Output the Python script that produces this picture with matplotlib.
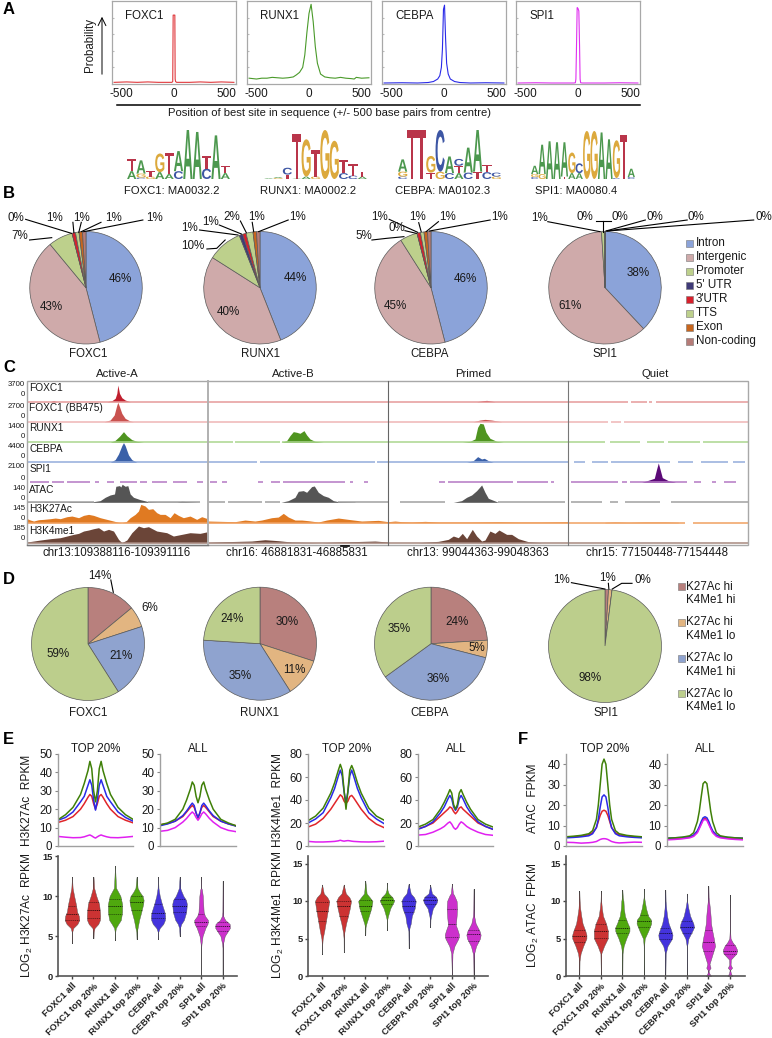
import numpy as np
import matplotlib
matplotlib.use("Agg")
import matplotlib.pyplot as plt
from matplotlib.textpath import TextPath
from matplotlib.patches import PathPatch, Rectangle
from matplotlib.font_manager import FontProperties
from matplotlib.transforms import Affine2D

plt.rcParams['font.family'] = ['Liberation Sans', 'DejaVu Sans']
plt.rcParams['mathtext.default'] = 'regular'
plt.rcParams['axes.unicode_minus'] = False

W, H = 772, 1038
fig = plt.figure(figsize=(W / 100, H / 100), dpi=100, facecolor='white')

def A(x0, y0, x1, y1):
    return fig.add_axes([x0 / W, 1 - y1 / H, (x1 - x0) / W, (y1 - y0) / H], facecolor='none')

ov = fig.add_axes([0, 0, 1, 1], facecolor='none', zorder=50)
ov.set_xlim(0, W); ov.set_ylim(H, 0); ov.axis('off')

def T(x, y, s, fs=8.5, ha='center', va='center', **k):
    ov.text(x, y, s, fontsize=fs, ha=ha, va=va, color=k.pop('color', '#1a1a1a'), **k)

def Zx(x): return x / 2.03

TF = ['FOXC1', 'RUNX1', 'CEBPA', 'SPI1']
TF_COL = ['#e0383c', '#4a9a2a', '#2a2ae8', '#e030f0']
for s, y in zip('ABCD', [9, 193, 367, 580]):
    T(3, y, s, 12, ha='left', weight='bold', color='black')
T(3, 740, 'E', 12, ha='left', weight='bold', color='black')
T(518, 740, 'F', 12, ha='left', weight='bold', color='black')

# ---------------- Panel A: motif position profiles
A_X = [
    [-570, -450, -350, -250, -150, -60, -20, -12, -8, 0, 8, 11, 15, 25, 60, 150, 250, 350, 450, 570],
    [-570, -500, -450, -400, -350, -300, -250, -200, -150, -120, -90, -60, -40, -20, 0, 20, 40, 60, 80, 110, 150, 200, 250, 300, 350, 400, 430, 450, 500, 570],
    [-570, -400, -250, -150, -100, -60, -40, -25, -15, -5, 5, 15, 25, 40, 60, 100, 150, 250, 400, 570],
    [-570, -400, -250, -100, -40, -25, -20, -15, -8, 0, 8, 15, 20, 25, 40, 100, 250, 400, 570],
]
A_Y = [
    [.02, .025, .02, .025, .02, .02, .02, .03, .83, .83, .83, .06, .03, .02, .02, .02, .025, .02, .025, .02],
    [.07, .06, .07, .07, .08, .075, .07, .075, .085, .11, .14, .2, .35, .62, .85, .96, .75, .45, .25, .12, .085, .075, .07, .08, .07, .065, .06, .08, .07, .075],
    [.012, .015, .012, .018, .03, .06, .1, .2, .42, .9, .95, .55, .25, .12, .06, .03, .018, .012, .015, .012],
    [.012, .015, .012, .012, .012, .015, .06, .4, .92, .91, .88, .45, .06, .015, .012, .012, .012, .015, .012],
]
A_BOX = [(112, 236), (247, 371), (382, 506), (516, 640)]
A_TICKS = [-500, 0, 500]
for i, (x0, x1) in enumerate(A_BOX):
    ax = A(x0, 1, x1, 84)
    ax.plot(A_X[i], A_Y[i], color=TF_COL[i], lw=0.8)
    ax.set_xlim(-590, 590); ax.set_ylim(0, 1)
    ax.set_xticks(A_TICKS); ax.set_xticklabels([str(t) for t in A_TICKS], fontsize=8.5, color='#1a1a1a')
    ax.set_yticks([.2, .4, .6, .8])
    ax.set_yticklabels([])
    ax.tick_params(axis='x', length=0, pad=3)
    ax.tick_params(axis='y', length=1.5, direction='in', color='#bbbbbb')
    for sp in ax.spines.values():
        sp.set_color('#a8a8a8'); sp.set_linewidth(0.9)
    T(x0 + 13, 16, TF[i], 8.3, ha='left')
ov.plot([117, 640], [105, 105], color='black', lw=1.1)
T(329, 113, 'Position of best site in sequence (+/- 500 base pairs from centre)', 8.1)
T(90, 45, 'Probability', 8.3, rotation=90)
ov.annotate('', xy=(102, 14), xytext=(102, 77),
            arrowprops=dict(arrowstyle='->', lw=0.7, color='black', mutation_scale=14))

# logos: stacks, bottom up, letter and height (fraction of full scale)
LOGO_COL = {'A': '#3d8f3f', 'C': '#2c479c', 'G': '#d9a22c', 'T': '#b3243a'}
LOGO_FOXC1 = [[('A', .16), ('T', .24)], [('C', .03), ('G', .08), ('A', .27)], [('G', .05), ('T', .11)],
              [('A', .14), ('G', .38)], [('A', .1), ('T', .43)], [('C', .16), ('A', .41)], [('A', 1.0)],
              [('A', .96)], [('C', .21), ('T', .26)], [('A', .89)], [('A', .12), ('T', .14)]]
LOGO_RUNX1 = [[('A', .015)], [('G', .02), ('A', .02)], [('T', .09), ('C', .14)], [('A', .01), ('T', .9)],
              [('A', .05), ('G', .76)], [('G', .05), ('T', .55)], [('G', 1.0)], [('G', .78)],
              [('C', .12), ('T', .26)], [('C', .07), ('T', .24)], [('A', .05), ('T', .1)]]
LOGO_CEBPA = [[('C', .05), ('G', .1), ('A', .25)], [('T', 1.0)], [('T', 1.0)], [('T', .13), ('G', .34)],
              [('G', .15), ('C', .85)], [('C', .12), ('A', .34)], [('A', .12), ('T', .15), ('C', .14)],
              [('C', .13), ('A', .51)], [('T', .15), ('A', .85)], [('C', .14), ('T', .15)], [('G', .05), ('C', .08)]]
LOGO_SPI1 = [[('C', .04), ('G', .06), ('A', .17)], [('G', .1), ('A', .6)], [('A', .77)], [('A', .75)],
             [('T', .05), ('A', .7)], [('A', .12), ('G', .42)], [('A', .12), ('C', .2)], [('G', .98)],
             [('G', .98)], [('A', .95)], [('A', .81)], [('C', .02), ('G', .77)], [('T', .9)], [('C', .04), ('A', .17)]]
LOGOS = [LOGO_FOXC1, LOGO_RUNX1, LOGO_CEBPA, LOGO_SPI1]
LOGO_NAMES = ['FOXC1: MA0032.2', 'RUNX1: MA0002.2', 'CEBPA: MA0102.3', 'SPI1: MA0080.4']
LOGO_X = [(127, 230), (264, 367), (398, 501), (531, 635)]
LOGO_LAB = [172, 308, 443, 576]
fp = FontProperties(family='Liberation Sans', weight='bold')
for cols, (x0, x1), nm, lx in zip(LOGOS, LOGO_X, LOGO_NAMES, LOGO_LAB):
    ax = A(x0, 130, x1, 179)
    ax.set_xlim(0, len(cols)); ax.set_ylim(0, 1); ax.axis('off')
    for c, stack in enumerate(cols):
        y = 0
        for ch, h in stack:
            tp = TextPath((0, 0), ch, size=1, prop=fp)
            bb = tp.get_extents()
            tr = Affine2D().translate(-bb.x0, -bb.y0).scale(0.98 / bb.width, h / bb.height).translate(c + .01, y)
            ax.add_patch(PathPatch(tp, transform=tr + ax.transData, fc=LOGO_COL[ch], ec='none', alpha=.92))
            y += h
    T(lx, 191, nm, 8.1)

# ---------------- Panel B: genomic annotation pies
B_CATS = ['Intron', 'Intergenic', 'Promoter', "5' UTR", "3'UTR", 'TTS', 'Exon', 'Non-coding']
B_COLS = ['#8ba3d9', '#cfaaaa', '#bdd08c', '#3f3a78', '#d8202c', '#bdd08c', '#c8661e', '#b67c78']
B_VALS = [[46, 43, 7, 0, 1, 1, 1, 1], [44, 40, 10, 1, 1, 2, 1, 1], [46, 45, 5, 0, 1, 1, 1, 1], [38, 61, 1, 0, 0, 0, 0, 0]]
B_CX = [86, 260, 431, 605]
for cx, vals, nm, nx in zip(B_CX, B_VALS, TF, [88, 260, 430, 605]):
    ax = A(cx - 56.5, 231.5, cx + 56.5, 344)
    ax.pie(vals, colors=B_COLS, startangle=90, counterclock=False, radius=1,
           wedgeprops=dict(edgecolor='#5a5a5a', linewidth=0.5))
    ax.set_xlim(-1, 1); ax.set_ylim(-1, 1)
    T(nx, 354, nm, 8.3)

# pie text: (value, zoom x, zoom y), leader polyline in zoom coordinates (2.03x, 3x from y=185)
B_TXT = [
    [('46%', 245, 283), ('43%', 105, 366), ('7%', 40, 152), ('0%', 33, 100), ('1%', 110, 98), ('1%', 165, 98), ('1%', 230, 98), ('1%', 313, 98)],
    [('44%', 599, 280), ('40%', 463, 380), ('10%', 392, 182), ('1%', 385, 130), ('1%', 428, 110), ('2%', 470, 96), ('1%', 520, 96), ('1%', 605, 96)],
    [('46%', 945, 282), ('45%', 803, 362), ('5%', 738, 152), ('0%', 805, 130), ('1%', 770, 96), ('1%', 848, 96), ('1%', 908, 96), ('1%', 1015, 96)],
    [('38%', 1295, 265), ('61%', 1158, 362), ('1%', 1095, 100), ('0%', 1188, 97), ('0%', 1258, 97), ('0%', 1330, 97), ('0%', 1412, 97), ('0%', 1550, 97)],
]
B_LEAD = [
    [(60, 165), (105, 158)], [(52, 103), (145, 145)], [(148, 112), (150, 143)], [(165, 112), (160, 142)], [(205, 112), (165, 140)], [(290, 105), (170, 140)],
    [(420, 192), (440, 190), (457, 165)], [(405, 135), (483, 150)], [(445, 120), (490, 147)], [(488, 108), (500, 143)], [(512, 112), (515, 140)], [(585, 105), (525, 140)],
    [(755, 165), (785, 160), (820, 155)], [(822, 137), (845, 145)], [(790, 103), (848, 142)], [(850, 113), (855, 140)], [(890, 110), (865, 140)], [(995, 105), (872, 138)],
    [(1112, 110), (1218, 140)], [(1210, 108), (1240, 108)], [(1225, 108), (1225, 140)], [(1310, 105), (1230, 138)], [(1395, 105), (1232, 138)], [(1530, 105), (1233, 138)],
]
for row in B_TXT:
    for s, x, y in row:
        T(Zx(x), 185 + y / 3, s, 8.4)
for pl in B_LEAD:
    ov.plot([Zx(p[0]) for p in pl], [185 + p[1] / 3 for p in pl], color='black', lw=0.8)
for i, (c, col) in enumerate(zip(B_CATS, B_COLS)):
    y = 185 + (175 + 42 * i) / 3
    ov.add_patch(Rectangle((686, y - 3.5), 7, 7, fc=col, ec='#777777', lw=0.4))
    T(696, y, c, 8.4, ha='left')

# ---------------- Panel C: tracks
C_COLS = [(80, 624, 27, 208), (10, 550, 208.3, 388.3), (10, 550, 388.3, 568.3), (10, 550, 568.3, 748.3)]
C_BASE = [401.7, 421.7, 442.3, 462.3, 482.3, 502.3, 522.7, 542.7]
C_NAMES = ['FOXC1', 'FOXC1 (BB475)', 'RUNX1', 'CEBPA', 'SPI1', 'ATAC', 'H3K27Ac', 'H3K4me1']
C_NAME_Y = [388, 408, 428, 449, 469, 490, 509, 531]
C_FILL = ['#c01f2e', '#c9524f', '#4f9420', '#3a60a8', '#5c0a78', '#555555', '#e07a22', '#6b4538']
C_LINE = ['#e59a9a', '#efb5b5', '#abd68e', '#93acdb', '#b478c4', '#a0a0a0', '#f0a060', '#a88a80']
C_SCALE = [('3700', 385, 395), ('2700', 407, 416), ('1400', 426, 436), ('4400', 446, 457),
           ('2100', 467, 478), ('140', 488, 498), ('145', 508, 518), ('185', 529, 539)]
C_TITLES = ['Active-A', 'Active-B', 'Primed', 'Quiet']
C_TITLE_X = [117, 293, 473, 655]
C_COORD = ['chr13:109388116-109391116', 'chr16: 46881831-46885831', 'chr13: 99044363-99048363', 'chr15: 77150448-77154448']
C_COORD_X = [117, 297, 478, 657]

# signal peaks: {(track, column): (positions, heights)}
C_PEAKS = {
    (0, 0): ([150, 160, 170, 320, 335, 345, 350, 353, 358, 365, 375, 390], [0, 3, 0, 0, 3, 10, 25, 50, 25, 12, 5, 0]),
    (1, 0): ([312, 330, 342, 350, 353, 358, 365, 375, 390, 400], [0, 5, 20, 50, 58, 45, 25, 10, 2, 0]),
    (2, 0): ([330, 345, 358, 370, 380, 395, 410, 430], [0, 6, 18, 32, 20, 8, 3, 0]),
    (3, 0): ([330, 345, 355, 365, 370, 375, 385, 395, 410], [0, 8, 25, 50, 59, 50, 22, 8, 0]),
    (5, 0): ([80, 130, 135, 200, 210, 280, 300, 315, 330, 343, 347, 358, 362, 366, 375, 383, 390, 400, 420, 445, 470, 530, 545, 600],
             [1, 1, 2, 1, 2, 2, 5, 15, 22, 25, 48, 50, 46, 54, 48, 50, 25, 15, 8, 2, 1, 1, 3, 0]),
    (6, 0): ([80, 90, 100, 115, 130, 150, 165, 180, 200, 215, 235, 250, 265, 280, 300, 320, 340, 355, 365, 378, 390, 405, 415, 422, 435, 445, 458, 470, 480, 495, 510, 522, 535, 550, 570, 590, 605, 623],
             [12, 8, 5, 9, 10, 12, 14, 12, 18, 20, 15, 22, 25, 22, 15, 10, 5, 1, 0, 3, 15, 25, 35, 55, 50, 40, 42, 30, 25, 25, 15, 30, 22, 15, 20, 10, 18, 12]),
    (7, 0): ([80, 120, 150, 180, 200, 220, 235, 250, 265, 280, 295, 310, 325, 340, 355, 365, 380, 395, 415, 430, 445, 470, 500, 520, 545, 570, 600, 623],
             [2, 8, 12, 15, 20, 25, 28, 35, 38, 42, 45, 35, 40, 35, 10, 0, 8, 30, 50, 45, 48, 35, 30, 20, 25, 30, 28, 33]),
    (2, 1): ([228, 245, 255, 265, 275, 285, 297, 305, 315, 330, 355], [0, 5, 20, 32, 30, 27, 35, 22, 10, 3, 0]),
    (5, 1): ([228, 250, 270, 280, 295, 305, 320, 328, 340, 355, 370, 385, 400, 450], [0, 5, 15, 33, 35, 30, 47, 49, 30, 20, 15, 5, 2, 1]),
    (6, 1): ([10, 50, 90, 120, 150, 170, 200, 220, 235, 250, 270, 290, 310, 340, 365, 400, 430, 470, 520, 550],
             [5, 4, 3, 8, 5, 8, 15, 17, 28, 17, 8, 8, 6, 2, 8, 14, 10, 5, 7, 3]),
    (7, 1): ([10, 60, 100, 140, 180, 220, 260, 300, 350, 400, 440, 510, 550], [1, 3, 4, 5, 9, 6, 2, 1, 0, 2, 3, 5, 2]),
    (0, 2): ([275, 295, 305, 330], [0, 3, 4, 0]),
    (1, 2): ([265, 285, 300, 320, 350], [0, 5, 7, 5, 0]),
    (2, 2): ([232, 255, 270, 278, 285, 295, 303, 315, 335, 355], [0, 3, 10, 45, 57, 55, 30, 12, 3, 0]),
    (3, 2): ([245, 265, 278, 290, 298, 310, 325], [0, 5, 17, 10, 12, 5, 0]),
    (5, 2): ([205, 230, 245, 260, 275, 290, 300, 310, 330, 340], [0, 5, 15, 22, 35, 52, 30, 12, 4, 0]),
    (6, 2): ([10, 30, 50, 80, 120, 160, 200, 260, 340, 400, 470, 550], [3, 5, 3, 2, 4, 2, 2, 2, 3, 2, 2, 3]),
    (7, 2): ([100, 160, 190, 205, 220, 232, 245, 262, 275, 290, 300, 315, 330, 342, 365, 380, 400, 430, 470],
             [0, 4, 10, 20, 15, 28, 12, 40, 20, 5, 8, 35, 28, 38, 25, 25, 12, 3, 0]),
    (4, 3): ([230, 250, 268, 275, 280, 285, 292, 310, 330], [0, 6, 12, 40, 58, 40, 14, 5, 1]),
    (6, 3): ([120, 150, 190, 240, 300, 340], [1, 2, 1, 2, 2, 1]),
}
# baseline segments: {(track, column): [(start, end), ...]}; tracks not listed are continuous
C_SEGS = {
    (0, 3): [(10, 190), (198, 245), (252, 262), (272, 550)],
    (1, 3): [(10, 130), (138, 168), (178, 550)],
    (2, 1): [(10, 85), (90, 225), (232, 550)],
    (2, 3): [(10, 120), (135, 225), (245, 298), (308, 405), (415, 550)],
    (3, 1): [(10, 155), (165, 510), (515, 550)],
    (3, 3): [(28, 60), (80, 130), (138, 315), (340, 385), (408, 490), (505, 540)],
    (4, 0): [(90, 145), (155, 190), (200, 270), (285, 295), (320, 340), (360, 410), (420, 440), (455, 500), (520, 560), (590, 610)],
    (4, 1): [(15, 35), (50, 65), (160, 175), (198, 225), (235, 420), (435, 445), (478, 490)],
    (4, 2): [(163, 180), (190, 385), (395, 490), (498, 508)],
    (4, 3): [(18, 160), (172, 185), (195, 365), (388, 408), (440, 452), (478, 513)],
    (5, 0): [(80, 280), (445, 600)],
    (5, 1): [(10, 60), (70, 170), (180, 225), (400, 550)],
    (5, 2): [(45, 180), (340, 540)],
    (5, 3): [(18, 110), (135, 160), (180, 285), (318, 550)],
    (6, 3): [(10, 360), (385, 550)],
}
for c, (zx0, zx1, px0, px1) in enumerate(C_COLS):
    for t, base in enumerate(C_BASE):
        ax = A(px0, base - 20, px1, base)
        ax.set_xlim(zx0, zx1); ax.set_ylim(0, 60); ax.axis('off')
        for a, b in C_SEGS.get((t, c), [(zx0, zx1)]):
            ax.plot([a, b], [0.5, 0.5], color=C_LINE[t], lw=1.1, solid_capstyle='butt', clip_on=False)
        if (t, c) in C_PEAKS:
            xs, hs = C_PEAKS[(t, c)]
            ax.fill_between(xs, hs, 0, color=C_FILL[t], lw=0)
    T(C_TITLE_X[c], 374, C_TITLES[c], 8.2)
    T(C_COORD_X[c], 553, C_COORD[c], 8.3)
for nm, y in zip(C_NAMES, C_NAME_Y):
    T(29.3, y, nm, 7.3, ha='left')
for s, y1, y0 in C_SCALE:
    T(25, y1, s, 5.6, ha='right')
    T(25, y0, '0', 5.6, ha='right')
for x, col, lw in [(208, '#b0b0b0', 1.4), (388, '#666666', 0.8), (568, '#777777', 0.8)]:
    ov.plot([x, x], [381, 545], color=col, lw=lw)
ov.add_patch(Rectangle((27, 381), 721, 164, fc='none', ec='#a8a8a8', lw=1.0))
ov.plot([27, 208], [545, 545], color='#777777', lw=1.0)
ov.plot([341, 349], [545.5, 545.5], color='black', lw=1.2)

# ---------------- Panel D: chromatin class pies
D_CATS = [('K27Ac hi', 'K4Me1 hi'), ('K27Ac hi', 'K4Me1 lo'), ('K27Ac lo', 'K4Me1 hi'), ('K27Ac lo', 'K4Me1 lo')]
D_COLS = ['#b8807d', '#e2b581', '#8fa3cf', '#bcce8c']
D_VALS = [[14, 6, 21, 59], [30, 11, 35, 24], [24, 5, 36, 35], [1, 1, 0, 98]]
D_C = [(88, 644), (260, 643.7), (431, 643.7), (605, 646)]
for (cx, cy), vals, nm, nx in zip(D_C, D_VALS, TF, [180, 527, 873, 1230]):
    ax = A(cx - 56.5, cy - 56.5, cx + 56.5, cy + 56.5)
    ax.pie(vals, colors=D_COLS, startangle=90, counterclock=False, radius=1,
           wedgeprops=dict(edgecolor='#5a5a5a', linewidth=0.5))
    ax.set_xlim(-1, 1); ax.set_ylim(-1, 1)
    T(Zx(nx), 565 + 445 / 3, nm, 8.3)
D_TXT = [('14%', 202, 32), ('6%', 305, 128), ('21%', 245, 272), ('59%', 117, 268),
         ('30%', 583, 170), ('11%', 598, 315), ('35%', 488, 333), ('24%', 470, 163),
         ('24%', 928, 170), ('5%', 968, 250), ('36%', 890, 343), ('35%', 810, 193),
         ('1%', 1140, 45), ('1%', 1233, 40), ('0%', 1305, 45), ('98%', 1198, 338)]
for s, x, y in D_TXT:
    T(Zx(x), 565 + y / 3, s, 8.4)
D_LEAD = [[(225, 45), (230, 82)], [(1160, 53), (1228, 72)], [(1235, 55), (1236, 72)], [(1283, 55), (1262, 55), (1243, 72)]]
for pl in D_LEAD:
    ov.plot([Zx(p[0]) for p in pl], [565 + p[1] / 3 for p in pl], color='black', lw=0.8)
for i, ((a, b), col) in enumerate(zip(D_CATS, D_COLS)):
    y = 565 + (65 + 107.3 * i) / 3
    ov.add_patch(Rectangle((678, y - 3.5), 7, 7, fc=col, ec='#777777', lw=0.4))
    T(686, y, a, 8.4, ha='left')
    T(686, y + 13.5, b, 8.4, ha='left')

# ---------------- Panels E, F: profiles
P_X = [-1, -.8, -.6, -.4, -.3, -.2, -.15, -.1, -.05, 0, .05, .1, .15, .2, .3, .4, .6, .8, 1]
E1T = [[12.8, 14, 16, 20, 23, 26.5, 28, 27, 23, 20, 23, 27, 28, 26.5, 23, 20, 16, 14, 12.6],
       [14, 15.5, 18.5, 24, 27, 33, 36, 33, 25, 19.5, 25, 33, 36, 33, 27, 24, 18.5, 15.5, 13.5],
       [14.3, 17, 21, 28, 34, 41, 46, 42, 30, 24, 30, 42, 46, 41, 34, 28, 21, 17, 14.5],
       [5.2, 4.8, 4.5, 4.6, 5, 5.7, 6, 5.5, 4.8, 4.3, 5, 5.6, 6, 5.6, 5, 4.6, 4.5, 4.8, 5.2]]
E1A = [[11.5, 12.2, 13.5, 16, 18.5, 21, 22, 21, 18, 15, 18, 21, 22, 21, 18.5, 16, 13.5, 12, 11],
       [11, 12, 13.5, 16.5, 19, 22, 23.3, 22, 18, 15.5, 18, 22, 23.3, 22, 19, 16.5, 13.5, 12, 10.8],
       [11.5, 12.5, 14.5, 20, 25, 31, 34.8, 33, 27, 23.5, 27, 33, 34.8, 31, 25, 20, 14.5, 12.5, 11],
       [8, 8.5, 10, 13, 15, 17.5, 18.5, 17.5, 15.5, 14, 15.5, 17.5, 18.5, 17.5, 15, 13, 10, 8.5, 7.8]]
E2T = [[16.5, 19, 24, 32, 37, 42, 44.5, 43, 39, 37, 39, 43, 44, 42, 37, 32, 24, 19, 16],
       [20, 23.5, 29, 42, 50, 61, 66, 61, 47, 38, 47, 61, 66, 61, 50, 42, 29, 23.5, 19.5],
       [22, 26, 33, 46, 55, 66, 71, 66, 48, 32, 48, 66, 70, 66, 55, 46, 33, 26, 22.5],
       [4, 3.5, 3.5, 3.8, 4, 4.5, 5, 4.5, 4.2, 4.5, 4.7, 4.5, 4.2, 4, 3.8, 3.6, 3.5, 3.7, 4.2]]
E2A = [[15, 17, 20, 26, 29, 32, 34, 33, 30, 28, 30, 33, 34, 32, 29, 26, 20, 17, 14.5],
       [14.5, 17, 21, 29, 34, 41, 44, 41, 34, 31, 34, 41, 44, 41, 34, 29, 21, 17, 14.5],
       [16.5, 19, 23, 32, 38, 45, 49, 46, 36, 32, 36, 46, 49, 45, 38, 32, 23, 19, 16.5],
       [9.5, 10, 12, 15, 17, 20, 21, 19, 16, 14.5, 16, 19, 21, 20, 17, 15, 12, 10, 9.3]]
F1T = [[4.3, 4.5, 4.8, 5.5, 6.5, 9, 12, 15, 17, 17.5, 17, 15, 12, 9, 6.5, 5.5, 4.8, 4.5, 4.3],
       [4, 4.2, 4.5, 5, 6, 9, 13, 19, 24, 25, 24, 19, 13, 9, 6, 5, 4.5, 4.2, 4],
       [4.5, 4.8, 5.2, 6, 7.5, 13, 20, 30, 40, 42.5, 40, 30, 20, 13, 7.5, 6, 5.2, 4.8, 4.5],
       [1.8, 1.7, 1.4, 1.6, 1.8, 2.2, 2.7, 3.2, 3.5, 3.6, 3.5, 3.2, 2.7, 2.2, 1.7, 1.5, 1.7, 1.9, 1.8]]
F1A = [[3.3, 3.5, 3.8, 4.3, 5, 7, 9, 11, 13, 13.5, 13, 11, 9, 7, 5, 4.3, 3.8, 3.5, 3.3],
       [3.8, 4, 4.2, 4.6, 5.3, 7.5, 9.5, 12, 13.8, 14.3, 13.8, 12, 9.5, 7.5, 5.3, 4.6, 4.2, 4, 3.8],
       [3.8, 4, 4.3, 5, 6.5, 12, 17, 24, 30.5, 31.5, 30.5, 24, 17, 12, 6.5, 5, 4.3, 4, 3.8],
       [3, 3.2, 3.5, 4, 4.7, 6.5, 8.5, 10.5, 12.5, 13, 12.5, 10.5, 8.5, 6.5, 4.7, 4, 3.5, 3.2, 3]]
P_PANELS = [(58, 133, 50, range(0, 51, 10), E1T, 'TOP 20%'), (160, 236, 50, range(0, 51, 10), E1A, 'ALL'),
            (308, 384, 80, range(0, 81, 20), E2T, 'TOP 20%'), (418, 493, 80, range(0, 81, 20), E2A, 'ALL'),
            (566, 642, 45, range(0, 41, 10), F1T, 'TOP 20%'), (667, 743, 45, range(0, 41, 10), F1A, 'ALL')]
P_COL = ['#e0252a', '#2a2ae8', '#3f8008', '#e020f0']
for (x0, x1, ymax, ticks, series, ttl) in P_PANELS:
    ax = A(x0, 754, x1, 846)
    for s, col in zip(series, P_COL):
        ax.plot(P_X, s, color=col, lw=1.1)
    ax.set_xlim(-1, 1); ax.set_ylim(0, ymax)
    ax.set_xticks([]); ax.set_yticks(list(ticks))
    ax.tick_params(axis='y', labelsize=8.3, length=2, width=0.8, color='#888888', pad=2, labelcolor='#1a1a1a')
    for k in ['top', 'right']:
        ax.spines[k].set_visible(False)
    for k in ['left', 'bottom']:
        ax.spines[k].set_color('#a0a0a0'); ax.spines[k].set_linewidth(1.0)
    T((x0 + x1) / 2 + 0.5, 749, ttl, 8.3)
T(27, 800, 'H3K27Ac  RPKM', 8.6, rotation=90)
T(278, 800, 'H3K4Me1  RPKM', 8.6, rotation=90)
T(533, 798, 'ATAC  FPKM', 8.6, rotation=90)

# ---------------- violins: levels, half widths, quartiles
V_LABELS = ['FOXC1 all', 'FOXC1 top 20%', 'RUNX1 all', 'RUNX1 top 20%', 'CEBPA all', 'CEBPA top 20%', 'SPI1 all', 'SPI1 top 20%']
V_COL = ['#cc3333', '#cc3333', '#4fa80e', '#4fa80e', '#4433dd', '#4433dd', '#cc30cc', '#cc30cc']
V_E1 = [
    ([4.1, 5.5, 6, 6.5, 7, 7.5, 8, 9, 10, 11, 12.4], [0, .01, .06, .25, .34, .32, .24, .18, .1, .03, 0], (7.0, 7.8, 8.8)),
    ([4.7, 5.5, 6, 6.5, 7, 7.5, 8, 9, 10, 11, 12.4], [0, .01, .05, .22, .3, .31, .3, .26, .13, .03, 0], (7.3, 8.2, 9.2)),
    ([4.5, 5.5, 6, 6.5, 7, 8, 9, 10, 10.5, 11, 13.8], [0, .01, .04, .15, .27, .33, .33, .25, .15, .05, 0], (7.7, 8.7, 9.6)),
    ([4.6, 5.5, 6, 7, 8, 9, 9.5, 10, 10.5, 11, 12.4], [0, .01, .05, .12, .22, .31, .33, .28, .15, .05, 0], (8.2, 9.2, 10.0)),
    ([4.6, 5.5, 6, 6.5, 7, 7.5, 8, 9, 10, 11, 12.4], [0, .01, .08, .24, .32, .33, .3, .18, .08, .02, 0], (7.2, 7.9, 9.0)),
    ([5, 6, 6.5, 7, 8, 9, 9.5, 10, 10.5, 11, 12.4], [0, .02, .08, .2, .31, .34, .3, .18, .1, .03, 0], (8.0, 8.8, 9.6)),
    ([0, 3.5, 4, 5, 6, 6.5, 7, 7.5, 8, 9, 10, 10.8, 11, 12.4], [0, .005, .02, .07, .2, .3, .32, .18, .12, .1, .08, .04, .01, 0], (6.2, 6.8, 7.8)),
    ([0, 3.5, 4, 5, 5.5, 6, 6.5, 7, 7.5, 8, 11.9], [0, .005, .02, .1, .22, .34, .33, .12, .03, .01, 0], (5.6, 6.2, 6.7)),
]
V_E2 = [
    ([3, 4, 5, 6, 7, 8, 9, 10, 10.5, 11, 12.2], [0, .005, .03, .1, .16, .22, .28, .33, .24, .08, 0], (7.3, 8.7, 9.9)),
    ([3.2, 5, 5.8, 7, 8, 9, 10, 10.5, 11, 12.2], [0, .005, .03, .11, .2, .28, .34, .26, .1, 0], (8.0, 9.3, 10.0)),
    ([5.5, 6.5, 7, 8, 9, 10, 10.5, 11, 12.7], [0, .01, .05, .16, .27, .33, .2, .06, 0], (8.7, 9.4, 10.1)),
    ([6.1, 7.5, 8, 9, 10, 10.5, 11, 11.5, 12.4], [0, .01, .05, .15, .33, .25, .08, .02, 0], (9.6, 10.1, 10.5)),
    ([3.7, 6, 6.5, 7, 8, 9, 10, 10.5, 11, 12.3], [0, .01, .05, .1, .15, .28, .33, .25, .1, 0], (8.6, 9.4, 10.0)),
    ([6.5, 7.5, 8, 9, 9.8, 10.2, 10.6, 11, 12.1], [0, .01, .04, .12, .3, .33, .25, .08, 0], (9.6, 10.1, 10.5)),
    ([0, 1, 3, 4, 5, 5.5, 6, 6.8, 8, 9, 10, 10.8, 11, 12.3], [0, .01, .03, .12, .3, .33, .28, .18, .22, .24, .22, .1, .05, 0], (5.2, 6.9, 8.9)),
    ([0, 2, 3, 4, 5, 5.5, 6, 7, 8, 9, 11.6], [0, .01, .03, .12, .3, .33, .28, .1, .03, .01, 0], (4.7, 5.6, 6.2)),
]
V_F = [
    ([0, 2, 3, 4, 5, 5.5, 6, 7, 8, 9, 10, 11.3], [0, .01, .06, .18, .33, .33, .28, .15, .09, .04, .015, 0], (4.6, 5.4, 6.2)),
    ([0, 3, 4, 5, 6, 7, 8, 9, 10, 11.3], [0, .02, .15, .32, .33, .24, .1, .05, .015, 0], (5.1, 6.0, 6.9)),
    ([0, 3, 4, 5, 6, 6.5, 7, 8, 9, 10, 10.5, 11.5], [0, .01, .06, .18, .33, .33, .25, .12, .07, .05, .02, 0], (5.7, 6.4, 7.5)),
    ([0, 4, 5, 6, 7, 7.5, 8, 9, 10, 10.5, 11.6], [0, .01, .04, .2, .34, .33, .2, .1, .04, .01, 0], (6.6, 7.3, 8.2)),
    ([0, 3, 4, 5, 5.5, 6, 7, 8, 9, 10, 11.5], [0, .015, .1, .31, .33, .28, .15, .08, .04, .01, 0], (5.0, 5.7, 6.4)),
    ([0, 4, 5, 6, 6.5, 7, 8, 9, 10, 11], [0, .01, .07, .25, .33, .3, .15, .07, .01, 0], (5.8, 6.6, 7.3)),
    ([0, .3, .7, 1.1, 1.6, 3, 4, 5, 6, 7, 8, 9, 10, 10.5, 12], [.12, .05, .01, .1, .05, .2, .31, .25, .18, .12, .1, .07, .03, .01, 0], (3.3, 4.6, 6.2)),
    ([0, .3, .8, 1.1, 1.5, 2.2, 3, 3.5, 4, 4.5, 5, 6, 10.8], [.12, .05, .01, .1, .03, .04, .3, .33, .25, .12, .03, .01, 0], (2.9, 3.3, 4.1)),
]
V_PANELS = [(58, 237, 15, [0, 5, 10, 15], V_E1, -.65, 7.67, 'LOG$_2$ H3K27Ac  RPKM', 27, 915),
            (308, 488, 16, [0, 5, 10, 15], V_E2, -.65, 7.67, 'LOG$_2$ H3K4Me1  RPKM', 278, 915),
            (566, 745, 16, [0, 5, 10, 15], V_F, -.62, 7.7, 'LOG$_2$ ATAC  FPKM', 533, 915)]
for (x0, x1, ymax, ticks, vs, xl0, xl1, yl, yx, yc) in V_PANELS:
    ax = A(x0, 856, x1, 976)
    for i, (lv, hw, qs) in enumerate(vs):
        lv = np.array(lv, float); hw = np.array(hw, float)
        ax.plot([i, i], [lv.min(), lv.max()], color='#333333', lw=0.7, zorder=1)
        ax.fill_betweenx(lv, i - hw, i + hw, facecolor=V_COL[i], edgecolor='#555555', lw=0.3, zorder=2)
        for j, q in enumerate(qs):
            h = np.interp(q, lv, hw)
            ax.plot([i - h, i + h], [q, q], color='black', lw=0.55,
                    ls=(0, (1.5, 1.0)), zorder=4, alpha=.9 if j == 1 else .6)
    ax.set_xlim(xl0, xl1); ax.set_ylim(0, ymax)
    ax.set_xticks(range(8))
    ax.set_xticklabels(V_LABELS, rotation=45, ha='right', rotation_mode='anchor', fontsize=6.7, weight='bold', color='#222222')
    ax.set_yticks(ticks)
    ax.set_yticklabels([str(t) for t in ticks], fontsize=6.7, weight='bold', color='#222222')
    ax.tick_params(axis='both', length=2.5, width=1.0, color='#444444', pad=1.5)
    for k in ['top', 'right']:
        ax.spines[k].set_visible(False)
    for k in ['left', 'bottom']:
        ax.spines[k].set_color('#555555'); ax.spines[k].set_linewidth(1.2)
    T(yx, yc, yl, 8.6, rotation=90)

fig.savefig('out.png', dpi=100, facecolor='white')
